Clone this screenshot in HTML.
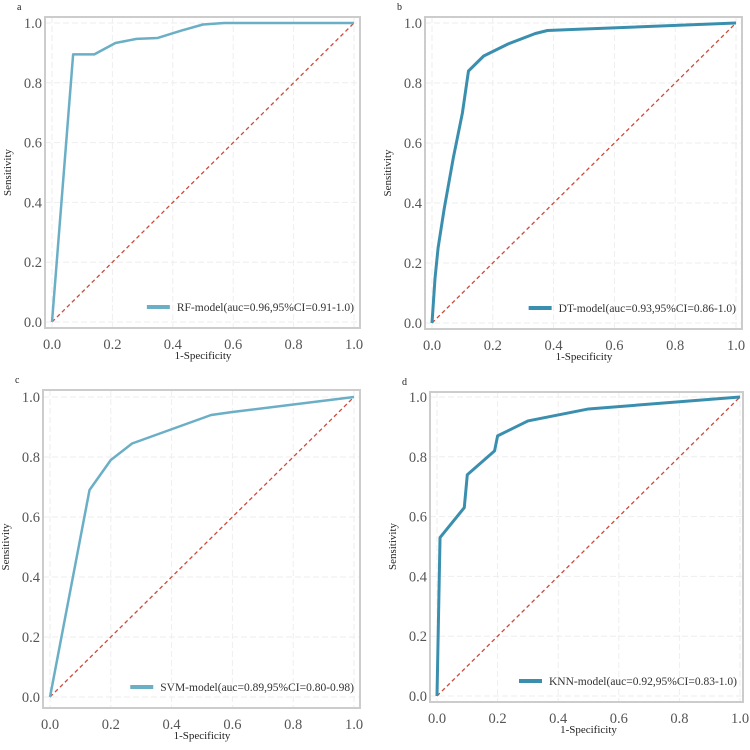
<!DOCTYPE html>
<html><head><meta charset="utf-8"><style>
body{margin:0;background:#fff;width:750px;height:745px;overflow:hidden}
svg text{font-family:"Liberation Serif",serif}
</style></head><body>
<svg id="chart" width="750" height="745"></svg>
<script>
const tickLabels=["0.0","0.2","0.4","0.6","0.8","1.0"];
const tickValues=[0,0.2,0.4,0.6,0.8,1.0];
const panelLetters=["a","b","c","d"];
const legendLabels=["RF-model(auc=0.96,95%CI=0.91-1.0)","DT-model(auc=0.93,95%CI=0.86-1.0)","SVM-model(auc=0.89,95%CI=0.80-0.98)","KNN-model(auc=0.92,95%CI=0.83-1.0)"];
const rfX=[0,0.07,0.14,0.21,0.28,0.35,0.43,0.5,0.57,1];
const rfY=[0,0.895,0.895,0.933,0.947,0.95,0.975,0.995,1,1];
const dtX=[0,0.01,0.02,0.04,0.07,0.1,0.12,0.13,0.17,0.25,0.34,0.38,0.45,1];
const dtY=[0,0.15,0.25,0.38,0.55,0.7,0.84,0.85,0.89,0.93,0.965,0.975,0.978,1];
const svmX=[0,0.13,0.2,0.27,0.53,0.6,1];
const svmY=[0,0.69,0.79,0.845,0.94,0.95,1];
const knnX=[0,0.01,0.09,0.1,0.19,0.2,0.3,0.5,1];
const knnY=[0,0.53,0.63,0.74,0.82,0.87,0.92,0.96,1];
const seriesX=[rfX,dtX,svmX,knnX];
const seriesY=[rfY,dtY,svmY,knnY];
const panels=[
 {fx:45,fy:17,fw:315,fh:311,x0:52,x1:354,y0:322,y1:23,col:"#6aafc6",w:2.5},
 {fx:425,fy:17,fw:317,fh:312,x0:432,x1:736,y0:323,y1:23,col:"#3b8fae",w:3},
 {fx:43,fy:390,fw:317,fh:318,x0:50,x1:354,y0:697,y1:397,col:"#6aafc6",w:2.5},
 {fx:430,fy:392,fw:313,fh:310,x0:437,x1:740,y0:696,y1:397,col:"#3b8fae",w:3}
];
const NS="http://www.w3.org/2000/svg";
const svg=document.getElementById("chart");
function mk(tag,attrs,parent){const e=document.createElementNS(NS,tag);for(const k in attrs)e.setAttribute(k,attrs[k]);parent.appendChild(e);return e;}
panels.forEach((p,i)=>{
 const sx=v=>p.x0+v*(p.x1-p.x0), sy=v=>p.y0+v*(p.y1-p.y0);
 const g=mk("g",{},svg);
 
 
 tickValues.forEach((v,j)=>{
  const gl=mk("line",{x1:sx(v),x2:sx(v),y1:p.fy,y2:p.fy+p.fh,stroke:"#eee","stroke-dasharray":"6,3","stroke-width":1},g);
  
  const gh=mk("line",{x1:p.fx,x2:p.fx+p.fw,y1:sy(v),y2:sy(v),stroke:"#eee","stroke-dasharray":"6,3","stroke-width":1},g);
  
  const tx=mk("text",{x:sx(v),y:p.fy+p.fh+21,"text-anchor":"middle","font-size":14.5,fill:"#555"},g);tx.textContent=tickLabels[j];
  
  const ty=mk("text",{x:p.fx-3,y:sy(v)+5,"text-anchor":"end","font-size":14.5,fill:"#555"},g);ty.textContent=tickLabels[j];
  
 });
 const fr=mk("rect",{x:p.fx,y:p.fy,width:p.fw,height:p.fh,fill:"none",stroke:"#ccc","stroke-width":2},g);
 
 const dg=mk("line",{x1:sx(0),y1:sy(0),x2:sx(1),y2:sy(1),stroke:"#cc4a3c","stroke-width":1.3,"stroke-dasharray":"4,3"},g);
 
 const pts=seriesX[i].map((x,k)=>sx(x)+","+sy(seriesY[i][k])).join(" ");
 const pl=mk("polyline",{points:pts,fill:"none",stroke:p.col,"stroke-width":p.w,"stroke-linejoin":"round"},g);
 
 const lx=p.fx+p.fw-6, ly=p.fy+p.fh-21;
 const lt=mk("text",{x:lx,y:ly+4,"text-anchor":"end","font-size":11.5,fill:"#333"},g);lt.textContent=legendLabels[i];
 
 const tw=lt.getComputedTextLength();
 const ls=mk("line",{x1:lx-tw-30,x2:lx-tw-7,y1:ly,y2:ly,stroke:p.col,"stroke-width":4},g);
 
 const xt=mk("text",{x:(p.x0+p.x1)/2,y:p.fy+p.fh+31,"text-anchor":"middle","font-size":11,fill:"#222"},g);xt.textContent="1-Specificity";
 
 const yx=p.fx-34, yy=(p.y0+p.y1)/2;
 const yt=mk("text",{x:yx,y:yy,"text-anchor":"middle","font-size":11,fill:"#222",transform:`rotate(-90 ${yx} ${yy})`},g);yt.textContent="Sensitivity";
 
 const pl2=mk("text",{x:p.fx-28,y:p.fy-7,"font-size":10,fill:"#222"},g);pl2.textContent=panelLetters[i];
 
});
</script>
</body></html>
